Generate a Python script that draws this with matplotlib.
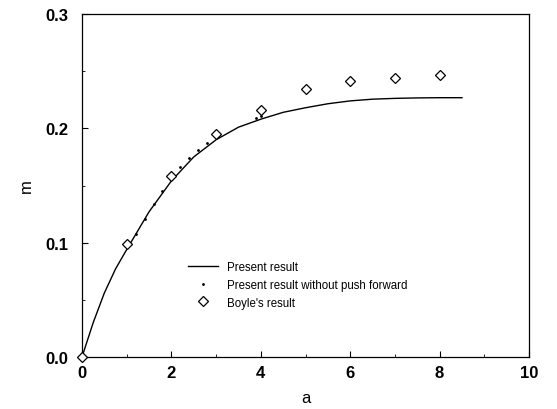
import numpy as np
import matplotlib
matplotlib.use("Agg")
import matplotlib.pyplot as plt
from matplotlib.legend_handler import HandlerLine2D

# Present result (solid curve)
curve_a = [0, 0.25, 0.5, 0.75, 1.0, 1.5, 2.0, 2.5, 3.0, 3.5, 4.0, 4.5, 5.0, 5.5, 6.0, 6.5, 7.0, 7.5, 8.0, 8.5]
curve_m = [0, 0.030, 0.056, 0.077, 0.094, 0.127, 0.154, 0.175, 0.190, 0.201, 0.208, 0.214, 0.218, 0.2215, 0.224, 0.2255, 0.2262, 0.2266, 0.2268, 0.2268]

# Present result without push forward (small dots)
nopush_a = [1.2, 1.4, 1.6, 1.8, 2.0, 2.2, 2.4, 2.6, 2.8, 3.0, 3.9, 4.0]
nopush_m = [0.108, 0.121, 0.134, 0.145, 0.156, 0.166, 0.174, 0.181, 0.187, 0.193, 0.209, 0.211]

# Boyle's result (diamonds)
boyle_a = [0, 1, 2, 3, 4, 5, 6, 7, 8]
boyle_m = [0.0, 0.099, 0.158, 0.195, 0.216, 0.234, 0.2415, 0.244, 0.247]

x_ticks = [0, 2, 4, 6, 8, 10]
y_ticks = [0.0, 0.1, 0.2, 0.3]
y_tick_labels = ["0.0", "0.1", "0.2", "0.3"]

plt.rcParams['font.family'] = ['Liberation Sans', 'DejaVu Sans']

fig = plt.figure(figsize=(5.57, 4.10), dpi=100)
ax = fig.add_axes([82/557, (410-358)/410, (529-82)/557, (358-15)/410])

ax.plot(curve_a, curve_m, color='black', lw=1.0, label='Present result')
ax.plot(nopush_a, nopush_m, linestyle='none', marker='.', markersize=2.0,
        color='black', label='Present result without push forward')
ax.plot(boyle_a, boyle_m, linestyle='none', marker='D', markersize=5.0,
        markerfacecolor='white', markeredgecolor='black', markeredgewidth=0.9,
        label="Boyle's result", clip_on=False, zorder=5)

ax.set_xlim(0, 10)
ax.set_ylim(0, 0.3)
ax.set_xticks(x_ticks)
ax.set_yticks(y_ticks)
ax.set_yticklabels(y_tick_labels)
ax.set_xticks([1, 3, 5, 7, 9], minor=True)
ax.set_yticks([0.05, 0.15, 0.25], minor=True)
ax.tick_params(direction='in', length=4, width=0.8, labelsize=12)
ax.tick_params(axis='x', pad=6)
ax.tick_params(axis='y', pad=10)
ax.tick_params(which='minor', direction='in', length=2, width=0.6)
for lab in ax.get_xticklabels() + ax.get_yticklabels():
    lab.set_fontweight('bold')
for sp in ax.spines.values():
    sp.set_linewidth(0.9)

ax.set_xlabel('a', fontsize=12, labelpad=7)
ax.set_ylabel('m', fontsize=12, labelpad=8)


class RightMarker(HandlerLine2D):
    def get_xdata(self, legend, xdescent, ydescent, width, height, fontsize):
        xdata = np.array([-xdescent, -xdescent + width])
        return xdata, np.array([-xdescent + width - 0.03 * width])


handles, labels = ax.get_legend_handles_labels()
leg = ax.legend(handles, labels, loc='upper left',
                bbox_to_anchor=(188/557, 1 - 262/410), bbox_transform=fig.transFigure,
                frameon=False, fontsize=8.3, handlelength=2.6, handletextpad=0.75,
                labelspacing=0.5, borderpad=0.0, borderaxespad=0.0,
                handler_map={handles[1]: RightMarker(numpoints=1),
                             handles[2]: RightMarker(numpoints=1)})

fig.savefig('out.png', dpi=100)
